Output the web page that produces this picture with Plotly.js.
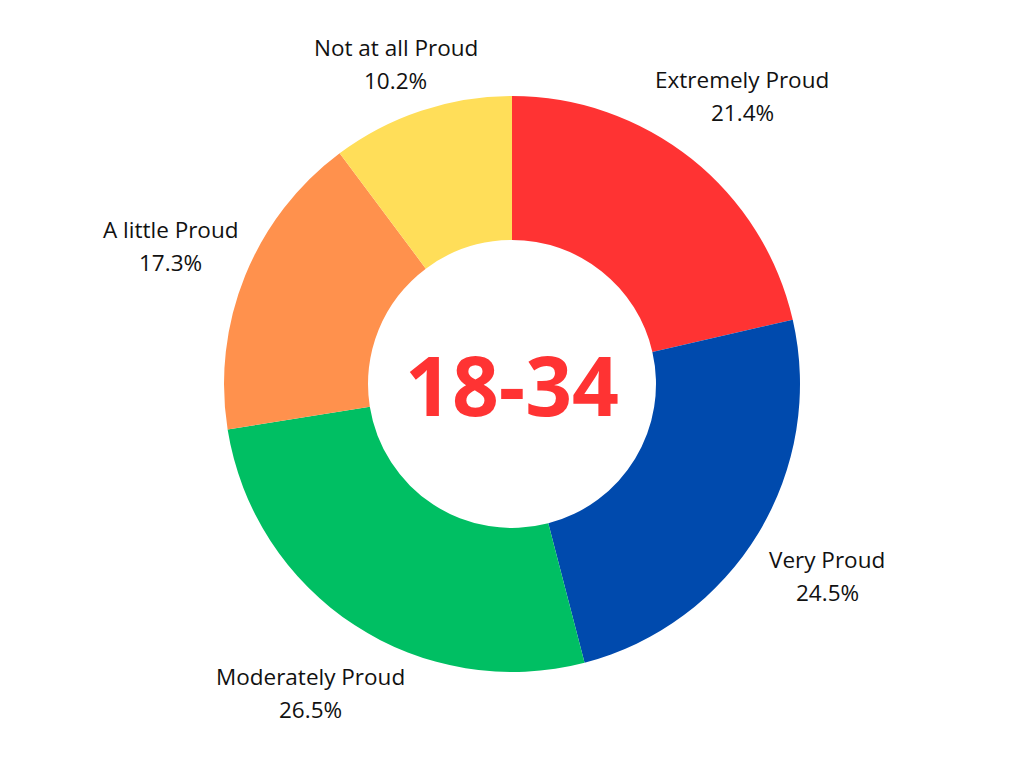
<!DOCTYPE html>
<html>
<head>
<meta charset="utf-8">
<script src="https://cdn.plot.ly/plotly-3.0.1.min.js"></script>
<style>
  html, body { margin: 0; padding: 0; background: #ffffff; }
  #chart { width: 1024px; height: 768px; }
</style>
</head>
<body>
<div id="chart"></div>
<script>
// Survey answers for the 18-34 group, clockwise from the top
const categories = ['Extremely Proud', 'Very Proud', 'Moderately Proud', 'A little Proud', 'Not at all Proud'];
const shares = [21.4, 24.5, 26.5, 17.3, 10.2];
const sliceColors = ['#ff3333', '#004aad', '#00bf63', '#ff914d', '#ffde59'];
const centerLabel = '18-34';

const W = 1024, H = 768;
const labelRadius = 369; // px from pie centre to label block
const minTop = 63;       // label blocks stay this far below the top edge

// Labels sit outside the ring, at each slice's mid angle
const total = shares.reduce((a, b) => a + b, 0);
const annotations = [];
let acc = 0;
shares.forEach((v, i) => {
    const mid = (acc + v / 2) / total * 2 * Math.PI;
    acc += v;
    const px = W / 2 + labelRadius * Math.sin(mid);
    const py = Math.max(minTop, H / 2 - labelRadius * Math.cos(mid));
    const x = px / W, y = 1 - py / H;
    const font = { family: 'Open Sans, sans-serif', size: 22.5, color: '#111111' };
    annotations.push({ x: x, y: y, xref: 'paper', yref: 'paper', text: categories[i],
        showarrow: false, font: font, yshift: 16, xanchor: 'center', yanchor: 'middle' });
    annotations.push({ x: x, y: y, xref: 'paper', yref: 'paper', text: v.toFixed(1) + '%',
        showarrow: false, font: font, yshift: -17, xanchor: 'center', yanchor: 'middle' });
});

annotations.push({
    x: 0.5, y: 0.5, xref: 'paper', yref: 'paper', text: '<b>' + centerLabel + '</b>',
    showarrow: false, font: { family: 'Open Sans, sans-serif', size: 82, color: '#ff3333' },
    xanchor: 'center', yanchor: 'middle'
});

const data = [{
    type: 'pie',
    labels: categories,
    values: shares,
    hole: 0.5,
    sort: false,
    direction: 'clockwise',
    rotation: 0,
    textinfo: 'none',
    hoverinfo: 'label+percent',
    marker: { colors: sliceColors, line: { width: 0 } },
    domain: { x: [0, 1], y: [0.125, 0.875] }
}];

const layout = {
    width: W,
    height: H,
    margin: { l: 0, r: 0, t: 0, b: 0 },
    showlegend: false,
    paper_bgcolor: '#ffffff',
    annotations: annotations
};

Plotly.newPlot('chart', data, layout, { displayModeBar: false, staticPlot: true });
</script>
</body>
</html>
